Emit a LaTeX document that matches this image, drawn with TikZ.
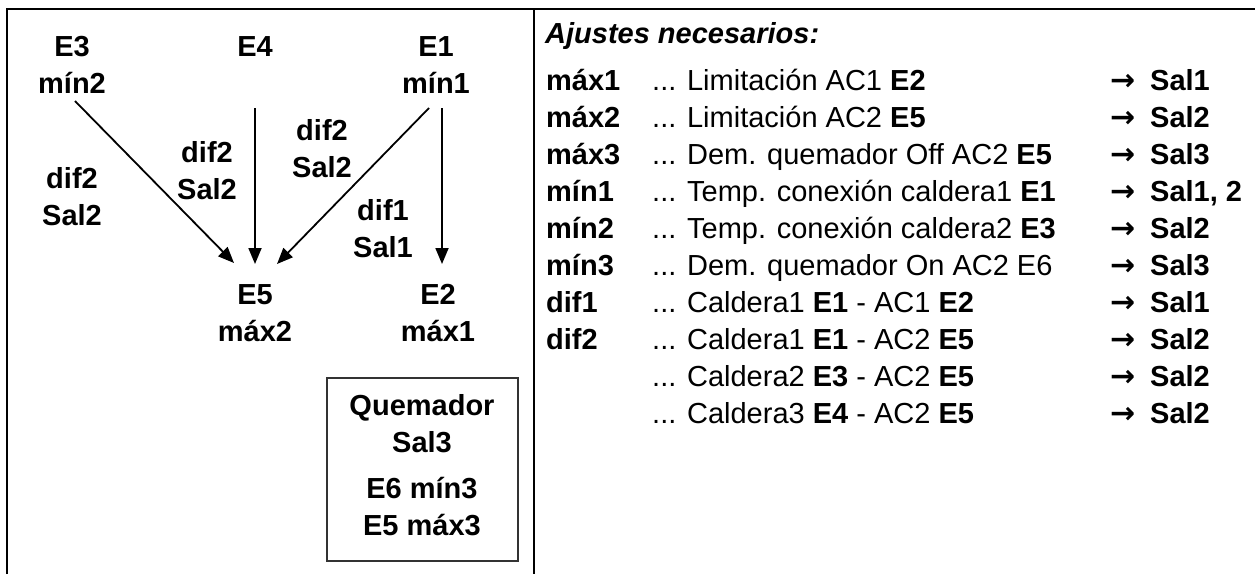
\documentclass[tikz,border=0pt]{standalone}
\usepackage{fontspec}
\setmainfont{Liberation Sans}
\newfontfamily\arrowfont{DejaVu Sans}
\usetikzlibrary{arrows.meta}
\begin{document}
\begin{tikzpicture}[x=1pt,y=-1pt,
  frameline/.style={line width=2.6pt},
  boxline/.style={line width=1.5pt, draw=black!80},
  lbl/.style={font=\fontsize{29}{37}\selectfont\bfseries, align=center, inner sep=0pt, anchor=north},
  arr/.style={line width=1.8pt, -{Triangle[length=16pt,width=13pt]}},
  title/.style={font=\fontsize{29}{37}\selectfont\bfseries\itshape, anchor=base west, inner sep=0pt},
  keytxt/.style={font=\fontsize{29}{37}\selectfont\bfseries, anchor=base west, inner sep=0pt},
  desctxt/.style={font=\fontsize{29}{37}\selectfont, anchor=base west, inner sep=0pt},
  arrtxt/.style={font=\arrowfont\fontsize{30}{37}\selectfont\bfseries, anchor=base west, inner sep=0pt},
  outtxt/.style={font=\fontsize{29}{37}\selectfont\bfseries, anchor=base west, inner sep=0pt},
]
\useasboundingbox (0,0) rectangle (1255,574);
% frame
\coordinate (tl) at (7,9);
\coordinate (tr) at (1255,9);
\coordinate (bl) at (7,574);
\coordinate (dt) at (534,9);
\coordinate (db) at (534,574);
\draw[frameline] (bl) -- (tl) -- (tr);
\draw[frameline] (dt) -- (db);

% left diagram labels
\node[lbl] (e3) at (72,36.5) {E3\\mín2};
\node[lbl] (e4) at (255,36.5) {E4};
\node[lbl] (e1) at (436,36.5) {E1\\mín1};
\node[lbl] (la) at (72,167.5) {dif2\\Sal2};
\node[lbl] (lb) at (207,141.5) {dif2\\Sal2};
\node[lbl] (lc) at (322,119.5) {dif2\\Sal2};
\node[lbl] (ld) at (383,199.5) {dif1\\Sal1};
\node[lbl] (e5) at (255,284.5) {E5\\máx2};
\node[lbl] (e2) at (438,284.5) {E2\\máx1};

% arrow end points
\coordinate (a1s) at (75,101);
\coordinate (a1e) at (234,263);
\coordinate (a2s) at (255,108);
\coordinate (a2e) at (255,264);
\coordinate (a3s) at (429,108);
\coordinate (a3e) at (277,264);
\coordinate (a4s) at (442,108);
\coordinate (a4e) at (442,264);
\draw[arr] (a1s) -- (a1e);
\draw[arr] (a2s) -- (a2e);
\draw[arr] (a3s) -- (a3e);
\draw[arr] (a4s) -- (a4e);

% burner box
\node[boxline, draw, minimum width=191pt, minimum height=183pt, anchor=north west, inner sep=0pt] (qbox) at (326,377) {};
\node[lbl] (q) at (422,394.5) {Quemador\\Sal3\\[9pt]E6 mín3\\E5 máx3};

% right table
\node[title] (tt) at (545,43) {Ajustes necesarios:};
\foreach \k/\d/\o [count=\i from 0] in {
  máx1/{... Limitación AC1 \textbf{E2}}/Sal1,
  máx2/{... Limitación AC2 \textbf{E5}}/Sal2,
  máx3/{... Dem. quemador Off AC2 \textbf{E5}}/Sal3,
  mín1/{... Temp. conexión caldera1 \textbf{E1}}/{Sal1, 2},
  mín2/{... Temp. conexión caldera2 \textbf{E3}}/Sal2,
  mín3/{... Dem. quemador On AC2 E6}/Sal3,
  dif1/{... Caldera1 \textbf{E1} - AC1 \textbf{E2}}/Sal1,
  dif2/{... Caldera1 \textbf{E1} - AC2 \textbf{E5}}/Sal2,
  {}/{... Caldera2 \textbf{E3} - AC2 \textbf{E5}}/Sal2,
  {}/{... Caldera3 \textbf{E4} - AC2 \textbf{E5}}/Sal2}
{
  \node[keytxt] (k\i) at (546,90+37*\i) {\k};
  \node[desctxt] (d\i) at (652,90+37*\i) {\d};
  \node[arrtxt] (r\i) at (1110,90+37*\i) {→};
  \node[outtxt] (o\i) at (1150,90+37*\i) {\o};
}
\end{tikzpicture}
\end{document}
